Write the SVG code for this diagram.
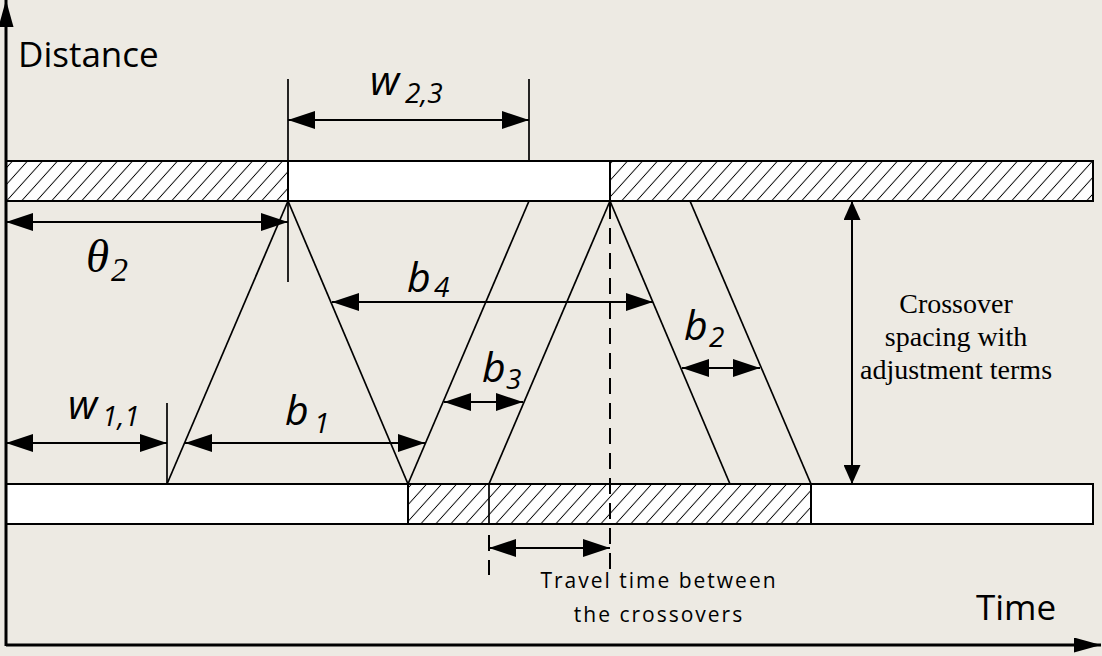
<svg xmlns="http://www.w3.org/2000/svg" width="1102" height="656" viewBox="0 0 1102 656">
<defs>
<pattern id="hatch" patternUnits="userSpaceOnUse" width="15" height="40" patternTransform="skewX(-42)">
<rect x="-2" y="-2" width="19" height="44" fill="#fff"/>
<line x1="7.5" y1="-2" x2="7.5" y2="42" stroke="#000" stroke-width="1.2"/>
</pattern>
<marker id="ah" markerUnits="userSpaceOnUse" viewBox="0 -9 27 18" refX="27" refY="0" markerWidth="27" markerHeight="18" orient="auto-start-reverse">
<path d="M0,-9 L27,0 L0,9 Z" fill="#000"/>
</marker>
<marker id="ahs" markerUnits="userSpaceOnUse" viewBox="0 -8.5 19 17" refX="19" refY="0" markerWidth="19" markerHeight="17" orient="auto-start-reverse">
<path d="M0,-8.5 L19,0 L0,8.5 Z" fill="#000"/>
</marker>
<marker id="axh" markerUnits="userSpaceOnUse" viewBox="0 -7.5 27 15" refX="27" refY="0" markerWidth="27" markerHeight="15" orient="auto">
<path d="M0,-7.5 L27,0 L0,7.5 Z" fill="#000"/>
</marker>
</defs>
<style>
.bar{stroke:#000;stroke-width:2}
.white{fill:#fff}
.hat{fill:url(#hatch)}
.traj{stroke:#000;stroke-width:1.7;fill:none}
.tick{stroke:#000;stroke-width:1.7;fill:none}
.dash{stroke:#000;stroke-width:2;fill:none;stroke-dasharray:16 9}
.dim{stroke:#000;stroke-width:2;fill:none;marker-start:url(#ah);marker-end:url(#ah)}
.axis{stroke:#000;stroke-width:3;fill:none;marker-end:url(#axh)}
.ax{font-family:"Open Sans",sans-serif;font-size:35px;fill:#000}
.var{font-family:"Open Sans",sans-serif;font-style:italic;font-size:41px;fill:#000}
.sub{font-family:"Open Sans",sans-serif;font-style:italic;font-size:28px;fill:#000}
.note{font-family:"Open Sans",sans-serif;font-size:21px;letter-spacing:2px;fill:#000;text-anchor:middle}
.serif{font-family:"Liberation Serif",serif;font-size:28px;fill:#000;text-anchor:middle}
.theta{font-family:"Liberation Serif",serif;font-style:italic;fill:#000}
</style>
<rect width="1102" height="656" fill="#EDEAE3"/>

<g id="bar-top">
<rect class="bar hat" x="6" y="161" width="282" height="40"/>
<rect class="bar white" x="288" y="161" width="322" height="40"/>
<rect class="bar hat" x="610" y="161" width="483" height="40"/>
</g>
<g id="bar-bottom">
<rect class="bar white" x="6" y="484" width="402" height="40"/>
<rect class="bar hat" x="408" y="484" width="403" height="40"/>
<rect class="bar white" x="811" y="484" width="282" height="40"/>
<line class="tick" x1="489" y1="484" x2="489" y2="524"/>
</g>

<g id="axes">
<line class="axis" x1="6" y1="646" x2="6" y2="0"/>
<line class="axis" x1="6" y1="645" x2="1101" y2="645"/>
<text class="ax" x="18" y="67">Distance</text>
<text class="ax" x="976" y="620">Time</text>
</g>

<g id="trajectories">
<line class="traj" x1="167" y1="484" x2="288" y2="201"/>
<line class="traj" x1="288" y1="201" x2="408" y2="484"/>
<line class="traj" x1="408" y1="484" x2="529" y2="201"/>
<line class="traj" x1="489" y1="484" x2="610" y2="201"/>
<line class="traj" x1="610" y1="201" x2="730" y2="484"/>
<line class="traj" x1="690" y1="201" x2="811" y2="484"/>
</g>

<g id="connectors">
<line class="tick" x1="288" y1="79" x2="288" y2="282"/>
<line class="tick" x1="529" y1="79" x2="529" y2="161"/>
<line class="tick" x1="167" y1="403" x2="167" y2="484"/>
<line class="dash" x1="610" y1="203" x2="610" y2="578"/>
<line class="dash" x1="489" y1="535" x2="489" y2="575"/>
<line class="dim" x1="288" y1="120" x2="529" y2="120"/>
<line class="dim" x1="6" y1="222" x2="288" y2="222"/>
<line class="dim" x1="6" y1="443" x2="167" y2="443"/>
<line class="dim" x1="185" y1="443" x2="425" y2="443"/>
<line class="dim" x1="332" y1="302" x2="653" y2="302"/>
<line class="dim" x1="444" y1="402" x2="523" y2="402"/>
<line class="dim" x1="682" y1="368" x2="760" y2="368"/>
<line class="dim" x1="489" y1="548" x2="610" y2="548"/>
<line stroke="#000" stroke-width="2" x1="852" y1="201" x2="852" y2="484" marker-start="url(#ahs)" marker-end="url(#ahs)"/>
</g>

<g id="label-w23"><text class="var" x="370" y="95">w</text><text class="sub" x="405" y="103">2,3</text></g>
<g id="label-theta2"><text class="theta" x="86" y="272" font-size="47">θ</text><text class="theta" x="111" y="281" font-size="34">2</text></g>
<g id="label-w11"><text class="var" x="68" y="419">w</text><text class="sub" x="102" y="426">1,1</text></g>
<g id="label-b1"><text class="var" x="285" y="425">b</text><text class="sub" x="314" y="433">1</text></g>
<g id="label-b4"><text class="var" x="407" y="292">b</text><text class="sub" x="434" y="297">4</text></g>
<g id="label-b3"><text class="var" x="482" y="382">b</text><text class="sub" x="506" y="389">3</text></g>
<g id="label-b2"><text class="var" x="684" y="340">b</text><text class="sub" x="709" y="347">2</text></g>
<g id="label-spacing">
<text class="serif" x="956" y="313">Crossover</text>
<text class="serif" x="956" y="346">spacing with</text>
<text class="serif" x="956" y="379">adjustment terms</text>
</g>
<g id="label-travel">
<text class="note" x="659" y="588">Travel time between</text>
<text class="note" x="659" y="622">the crossovers</text>
</g>
</svg>
